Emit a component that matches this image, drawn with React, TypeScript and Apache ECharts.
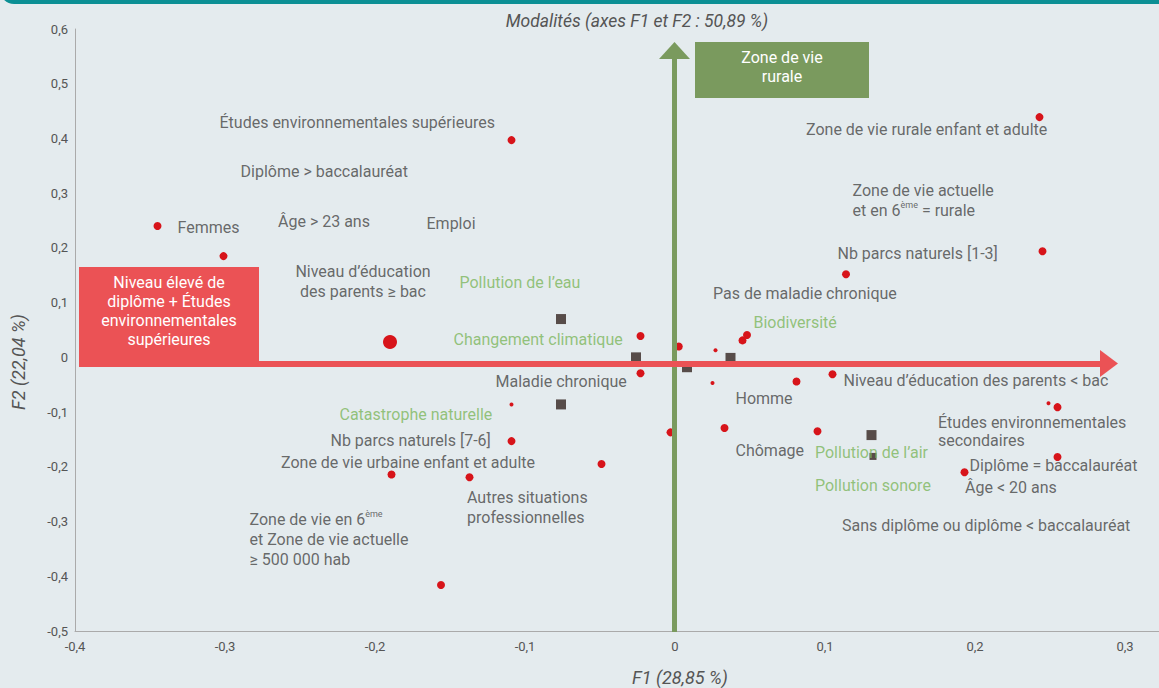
import React, { useEffect, useRef } from "react";
import * as echarts from "echarts";

// ---- data (F1, F2 coordinates) ----
const redDots: [number, number][] = [
  [-0.345, 0.24], [-0.301, 0.185], [-0.109, 0.397], [0.243, 0.439], [0.245, 0.194],
  [0.114, 0.152], [-0.023, 0.039], [0.0025, 0.02], [0.045, 0.031], [0.048, 0.041],
  [-0.023, -0.029], [0.081, -0.044], [0.105, -0.031], [-0.109, -0.153], [-0.003, -0.137],
  [0.033, -0.129], [0.095, -0.135], [-0.049, -0.195], [-0.137, -0.219], [-0.189, -0.214],
  [-0.156, -0.416], [0.255, -0.091], [0.255, -0.182], [0.193, -0.21],
];
const smallDots: [number, number][] = [
  [0.027, 0.013], [0.025, -0.047], [-0.109, -0.086], [0.249, -0.084],
];
const bigDots: [number, number][] = [[-0.19, 0.028]];
const squares: [number, number][] = [
  [-0.076, 0.07], [-0.026, 0.0], [0.008, -0.018], [0.037, -0.001], [-0.076, -0.086], [0.131, -0.142],
];
const smallSquares: [number, number][] = [[0.132, -0.181]];

// modality labels: [text, F1, F2, kind]  kind: "d" dark, "g" green, "c" centered dark, "t" tight dark
const labels: [string, number, number, string][] = [
  ["Études environnementales supérieures", -0.304, 0.43, "d"],
  ["Diplôme > baccalauréat", -0.29, 0.339, "d"],
  ["Femmes", -0.332, 0.238, "d"],
  ["Âge > 23 ans", -0.265, 0.249, "d"],
  ["Emploi", -0.166, 0.245, "d"],
  ["Niveau d’éducation\ndes parents ≥ bac", -0.208, 0.139, "c"],
  ["Pollution de l’eau", -0.144, 0.136, "g"],
  ["Changement climatique", -0.148, 0.033, "g"],
  ["Biodiversité", 0.052, 0.064, "g"],
  ["Pas de maladie chronique", 0.025, 0.117, "d"],
  ["Nb parcs naturels [1-3]", 0.108, 0.19, "d"],
  ["Zone de vie rurale enfant et adulte", 0.087, 0.417, "d"],
  ["Zone de vie actuelle\net en 6{sup|ème} = rurale", 0.118, 0.286, "d"],
  ["Maladie chronique", -0.12, -0.045, "d"],
  ["Homme", 0.04, -0.076, "d"],
  ["Niveau d’éducation des parents < bac", 0.112, -0.042, "d"],
  ["Catastrophe naturelle", -0.224, -0.104, "g"],
  ["Nb parcs naturels [7-6]", -0.23, -0.151, "d"],
  ["Zone de vie urbaine enfant et adulte", -0.263, -0.192, "d"],
  ["Autres situations\nprofessionnelles", -0.139, -0.275, "d"],
  ["Zone de vie en 6{sup|ème}\net Zone de vie actuelle\n≥ 500 000 hab", -0.284, -0.332, "d"],
  ["Chômage", 0.04, -0.171, "d"],
  ["Pollution de l’air", 0.093, -0.173, "g"],
  ["Pollution sonore", 0.093, -0.235, "g"],
  ["Études environnementales\nsecondaires", 0.175, -0.135, "t"],
  ["Diplôme = baccalauréat", 0.196, -0.197, "d"],
  ["Âge < 20 ans", 0.193, -0.237, "d"],
  ["Sans diplôme ou diplôme < baccalauréat", 0.111, -0.307, "d"],
];

const titleText = "Modalités (axes F1 et F2 : 50,89 %)";
const xName = "F1 (28,85 %)";
const yName = "F2 (22,04 %)";
const redBoxText = "Niveau élevé de\ndiplôme + Études\nenvironnementales\nsupérieures";
const greenBoxText = "Zone de vie\nrurale";

const FONT = "Roboto";
const DARK = "#464646";
const GREEN_TXT = "#7cb65c";
const RED = "#d7141a";
const ARROW_RED = "#eb5255";
const ARROW_GREEN = "#7a9a5e";
const SQUARE = "#574c49";

export default function App() {
  const ref = useRef<HTMLDivElement>(null);
  useEffect(() => {
    if (!ref.current) return;
    const chart = echarts.init(ref.current, undefined, { renderer: "svg" });
    const fmt = (v: number) => {
      const r = Math.round(v * 10) / 10;
      if (r === 0) return "0";
      return r.toFixed(1).replace(".", ",");
    };
    const labelData = labels.map(([t, x, y, k]) => ({
      value: [x, y],
      name: t,
      label: {
        show: true,
        formatter: t,
        position: k === "c" ? "inside" : "right",
        distance: 0,
        align: k === "c" ? "center" : "left",
        verticalAlign: "middle",
        color: k === "g" ? GREEN_TXT : DARK,
        fontSize: 16,
        fontFamily: FONT,
        lineHeight: k === "t" ? 18 : 20,
        rich: {
          sup: { fontSize: 9, lineHeight: 9, verticalAlign: "top", color: DARK, fontFamily: FONT },
        },
      },
    }));
    chart.setOption({
      animation: false,
      backgroundColor: "#e4ebee",
      grid: { left: 75, right: 34, top: 29, bottom: 57 },
      xAxis: {
        type: "value",
        min: -0.4,
        max: 0.3,
        interval: 0.1,
        splitLine: { show: false },
        axisTick: { show: false },
        axisLine: { show: true, onZero: false, lineStyle: { color: "#aaaaaa", width: 1 } },
        axisLabel: { formatter: fmt, color: "#555", fontSize: 13, fontFamily: FONT, margin: 9 },
      },
      yAxis: {
        type: "value",
        min: -0.5,
        max: 0.6,
        interval: 0.1,
        splitLine: { show: false },
        axisTick: { show: false },
        axisLine: { show: true, onZero: false, lineStyle: { color: "#aaaaaa", width: 1 } },
        axisLabel: { formatter: fmt, color: "#555", fontSize: 13, fontFamily: FONT, margin: 7 },
      },
      graphic: [
        { type: "rect", z: 0, shape: { x: 0, y: -12, width: 1159, height: 16, r: [0, 0, 0, 14] }, style: { fill: "#0b8f94" } },
        { type: "line", z: 1, shape: { x1: 1125, y1: 631.5, x2: 1159, y2: 631.5 }, style: { stroke: "#aaaaaa", lineWidth: 1 } },
        { type: "text", z: 5, x: 637, y: 21, style: { text: titleText, font: `italic 17.5px ${FONT}`, fill: "#555", align: "center", verticalAlign: "middle" } },
        { type: "text", z: 5, x: 680, y: 677, style: { text: xName, font: `italic 18px ${FONT}`, fill: "#555", align: "center", verticalAlign: "middle" } },
        { type: "text", z: 5, x: 18, y: 362, rotation: Math.PI / 2, style: { text: yName, font: `italic 18px ${FONT}`, fill: "#555", align: "center", verticalAlign: "middle" } },
        // green vertical arrow
        { type: "line", z: 3, shape: { x1: 674.5, y1: 632, x2: 674.5, y2: 57 }, style: { stroke: ARROW_GREEN, lineWidth: 5 } },
        { type: "polygon", z: 3, shape: { points: [[659, 59], [690, 59], [674.5, 42]] }, style: { fill: ARROW_GREEN } },
        { type: "rect", z: 3, shape: { x: 695, y: 42, width: 174, height: 56 }, style: { fill: ARROW_GREEN } },
        { type: "text", z: 4, x: 782, y: 67, style: { text: greenBoxText, font: `16px ${FONT}`, fill: "#fff", align: "center", verticalAlign: "middle", lineHeight: 19 } },
        // red horizontal arrow
        { type: "line", z: 3, shape: { x1: 79, y1: 364, x2: 1102, y2: 364 }, style: { stroke: ARROW_RED, lineWidth: 6 } },
        { type: "polygon", z: 3, shape: { points: [[1100, 350], [1100, 377], [1118, 363.5]] }, style: { fill: ARROW_RED } },
        { type: "rect", z: 3, shape: { x: 79, y: 267, width: 180, height: 100 }, style: { fill: ARROW_RED } },
        { type: "text", z: 4, x: 169, y: 311, style: { text: redBoxText, font: `16px ${FONT}`, fill: "#fff", align: "center", verticalAlign: "middle", lineHeight: 19 } },
      ],
      series: [
        { type: "scatter", z: 2, symbol: "circle", symbolSize: 8, itemStyle: { color: RED, opacity: 1 }, data: redDots },
        { type: "scatter", z: 2, symbol: "circle", symbolSize: 4, itemStyle: { color: RED, opacity: 1 }, data: smallDots },
        { type: "scatter", z: 2, symbol: "circle", symbolSize: 14, itemStyle: { color: RED, opacity: 1 }, data: bigDots },
        { type: "scatter", z: 2, symbol: "rect", symbolSize: 10, itemStyle: { color: SQUARE, opacity: 1 }, data: squares },
        { type: "scatter", z: 2, symbol: "rect", symbolSize: 7, itemStyle: { color: SQUARE, opacity: 1 }, data: smallSquares },
        { type: "scatter", z: 6, symbolSize: 1, itemStyle: { color: "rgba(0,0,0,0)" }, silent: true, data: labelData },
      ],
    });
    return () => chart.dispose();
  }, []);
  return <div ref={ref} style={{ position: "fixed", left: 0, top: 0, width: 1159, height: 688 }} />;
}
